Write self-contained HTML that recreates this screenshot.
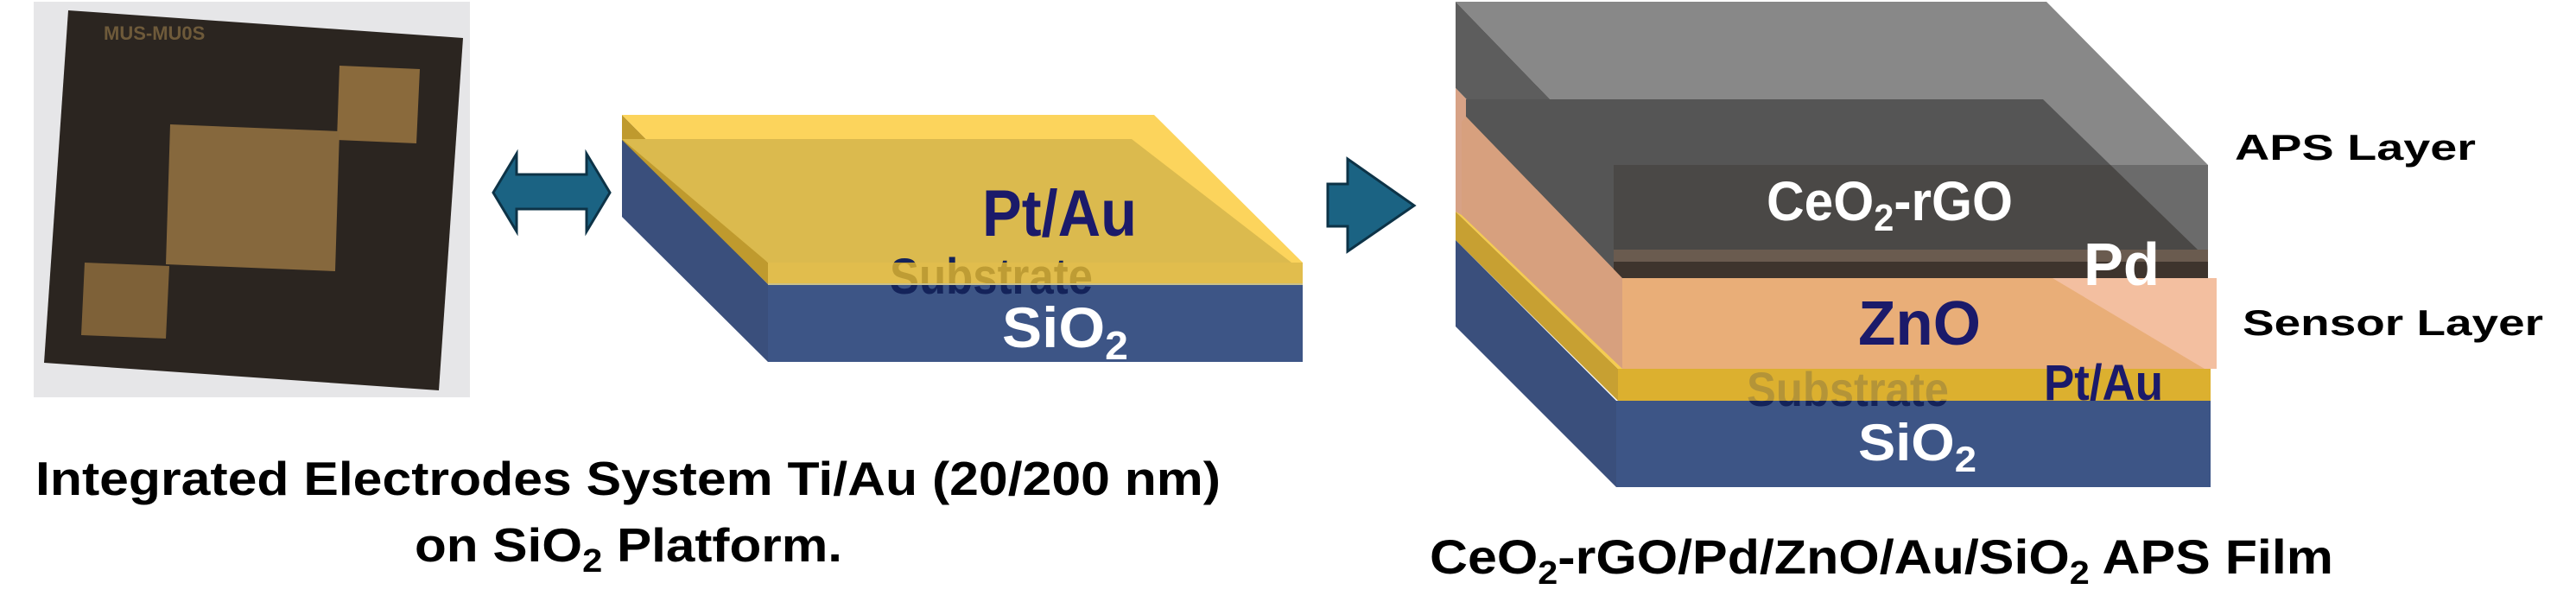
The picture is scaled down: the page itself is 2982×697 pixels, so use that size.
<!DOCTYPE html>
<html><head><meta charset="utf-8"><style>
html,body{margin:0;padding:0;background:#fff;}
svg{display:block;}
text{font-family:"Liberation Sans",Arial,sans-serif;font-weight:bold;}
</style></head><body>
<svg width="2982" height="697" viewBox="0 0 2982 697" xmlns="http://www.w3.org/2000/svg">
<!-- photo -->
<rect x="39" y="2" width="505" height="458" fill="#e6e6e8"/>
<polygon points="79,12 536,44 508,452 51,420" fill="#2b2520"/>
<polygon points="393,76 486,80 482,166 390,162" fill="#8a6a3c"/>
<polygon points="197,144 393,152 388,314 192,306" fill="#86683d"/>
<polygon points="98,304 196,308 192,392 94,388" fill="#7e6138"/>
<text x="120" y="46" font-size="22" fill="#6e5a3a" font-weight="normal">MUS-MU0S</text>
<!-- double arrow -->
<polygon points="571,223 598,178 598,202 679,202 679,178 706,223 679,268 679,242 598,242 598,268" fill="#1b6383" stroke="#0d3347" stroke-width="3"/>
<!-- slab 1 -->
<polygon points="720,160 889,329 889,419 720,251" fill="#3a4f7c"/>
<polygon points="720,133 889,304 889,329 720,162" fill="#bf9a2e"/>
<rect x="889" y="329" width="619" height="90" fill="#3d5586"/>
<polygon points="720,133 1336,133 1508,304 889,304" fill="#fcd45c"/>
<polygon points="720,161 1310,161 1495,304 889,304" fill="#dbba4e"/>
<text x="1030" y="340" font-size="58" fill="#14235a" textLength="235" lengthAdjust="spacingAndGlyphs">Substrate</text>
<rect x="889" y="304" width="619" height="25" fill="#dcb22e" opacity="0.85"/>
<line x1="889" y1="329" x2="1508" y2="329" stroke="#c9c08a" stroke-width="2"/>
<text x="1137" y="273" font-size="76" fill="#1b1a6a" textLength="179" lengthAdjust="spacingAndGlyphs">Pt/Au</text>
<text x="1160" y="402" font-size="66" fill="#fff" textLength="146" lengthAdjust="spacingAndGlyphs">SiO<tspan font-size="46" dy="14">2</tspan></text>
<!-- right arrow -->
<polygon points="1537,213 1560,213 1560,184 1637,238 1560,291 1560,262 1537,262" fill="#1b6383" stroke="#0d3347" stroke-width="3"/>
<!-- right block -->
<polygon points="1685,2 2369,2 2556,191 1868,191" fill="#888888"/>
<polygon points="1685,2 1868,191 1868,289 1685,102" fill="#5d5d5d"/>
<rect x="1868" y="191" width="688" height="98" fill="#6b6b6b"/>
<!-- ZnO left/top (drawn under dark box) -->
<polygon points="1685,102 1868,289 1878,300 1878,427 1685,245" fill="#d7a286"/>
<polygon points="1697,115 2365,115 2556,301 2556,322 1878,322 1697,135" fill="#555555"/>
<polygon points="1868,191 2443,191 2544,289 1868,289" fill="#4a4846"/>
<polygon points="1868,289 2556,289 2556,303 1868,303" fill="#6a5b4f"/>
<polygon points="1868,303 2556,303 2556,322 1868,322" fill="#3e342d"/>
<polygon points="1697,135 1878,322 1878,427 1692,249 1692,141" fill="#d7a07e"/>
<rect x="1878" y="322" width="688" height="105" fill="#e9ae78"/>
<polygon points="2376,322 2566,322 2566,427 2552,427" fill="#f3bfa0"/>
<!-- gold -->
<polygon points="1685,245 1873,427 1873,464 1685,278" fill="#c7a032"/>
<polygon points="1685,245 1692,249 1878,427 1873,427" fill="#f5cc50"/>
<rect x="1873" y="427" width="686" height="37" fill="#dcb030"/>
<!-- SiO2 -->
<polygon points="1685,278 1871,464 1871,564 1685,378" fill="#3a4f7c"/>
<rect x="1871" y="464" width="688" height="100" fill="#3d5586"/>
<text x="2022" y="470" font-size="56" fill="#14235a" textLength="234" lengthAdjust="spacingAndGlyphs">Substrate</text>
<rect x="1873" y="427" width="686" height="37" fill="#dcb030" opacity="0.8"/>
<!-- labels -->
<text x="2045" y="255" font-size="64" fill="#fff" textLength="285" lengthAdjust="spacingAndGlyphs">CeO<tspan font-size="44" dy="12">2</tspan><tspan dy="-12">-rGO</tspan></text>
<text x="2412" y="330" font-size="70" fill="#fff" textLength="88" lengthAdjust="spacingAndGlyphs">Pd</text>
<text x="2151" y="399" font-size="72" fill="#1b1a6a" textLength="142" lengthAdjust="spacingAndGlyphs">ZnO</text>
<text x="2366" y="463" font-size="58" fill="#1b1a6a" textLength="138" lengthAdjust="spacingAndGlyphs">Pt/Au</text>
<text x="2151" y="533" font-size="60" fill="#fff" textLength="137" lengthAdjust="spacingAndGlyphs">SiO<tspan font-size="42" dy="13">2</tspan></text>
<text x="2587" y="185" font-size="42" fill="#000" textLength="279" lengthAdjust="spacingAndGlyphs">APS Layer</text>
<text x="2596" y="388" font-size="42" fill="#000" textLength="348" lengthAdjust="spacingAndGlyphs">Sensor Layer</text>
<!-- captions -->
<text x="41" y="573" font-size="55" fill="#000" textLength="1372" lengthAdjust="spacingAndGlyphs">Integrated Electrodes System Ti/Au (20/200 nm)</text>
<text x="480" y="650" font-size="55" fill="#000" textLength="495" lengthAdjust="spacingAndGlyphs">on SiO<tspan font-size="38" dy="12">2</tspan><tspan dy="-12"> Platform.</tspan></text>
<text x="1655" y="664" font-size="56" fill="#000" textLength="1046" lengthAdjust="spacingAndGlyphs">CeO<tspan font-size="38" dy="12">2</tspan><tspan dy="-12">-rGO/Pd/ZnO/Au/SiO</tspan><tspan font-size="38" dy="12">2</tspan><tspan dy="-12"> APS Film</tspan></text>
</svg>
</body></html>
